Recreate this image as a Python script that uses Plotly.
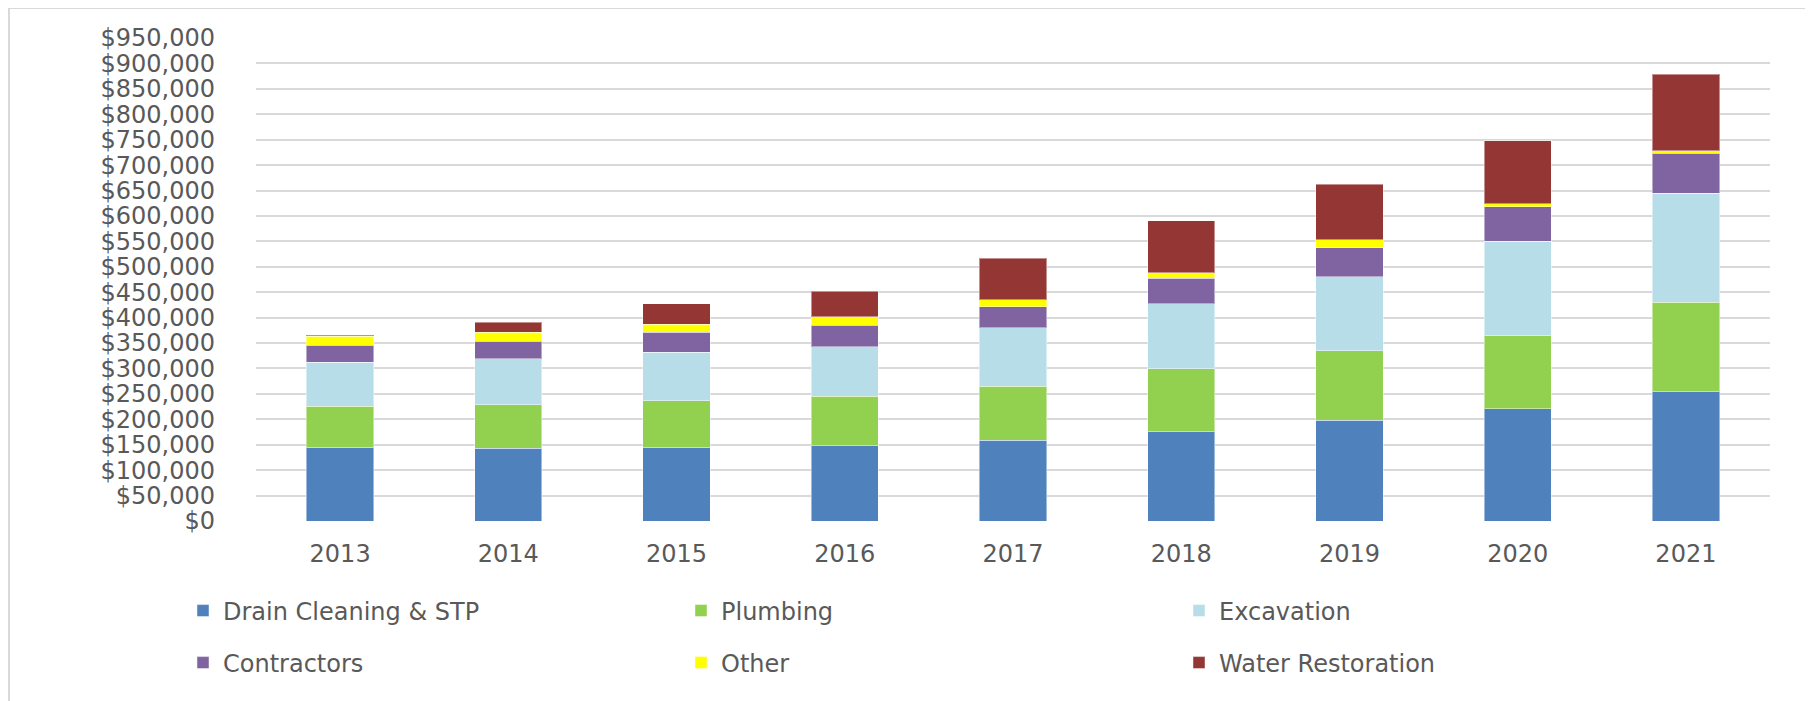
import plotly.graph_objects as go

years = ["2013", "2014", "2015", "2016", "2017", "2018", "2019", "2020", "2021"]

drain_cleaning = [145000, 143000, 145000, 148000, 159000, 176000, 198000, 221000, 254000]
plumbing = [81000, 86000, 92000, 97000, 106000, 123000, 137000, 144000, 176000]
excavation = [86000, 90000, 95000, 98000, 115000, 128000, 145000, 185000, 215000]
contractors = [34000, 35000, 39000, 42000, 41000, 50000, 57000, 68000, 78000]
other = [17000, 17000, 16000, 17000, 14000, 11000, 16000, 6000, 5000]
water_restoration = [2000, 20000, 40000, 50000, 82000, 103000, 109000, 124000, 151000]

series = [
    ("Drain Cleaning & STP", drain_cleaning, "#4f81bd", "legend"),
    ("Plumbing", plumbing, "#92d050", "legend"),
    ("Excavation", excavation, "#b7dee8", "legend"),
    ("Contractors", contractors, "#8064a2", "legend2"),
    ("Other", other, "#ffff00", "legend2"),
    ("Water Restoration", water_restoration, "#943634", "legend2"),
]

# page body has an 8px default margin: work in page pixels, convert to figure pixels
OFF = 8
W, H = 1813 - OFF, 701 - OFF
PL, PR, PT, PB = 256, 1770, 38, 521  # plot area in page pixels
L = PL - OFF
R = W - (PR - OFF)
T = PT - OFF
B = H - (PB - OFF)
PW = PR - PL
PH = PB - PT

def px_x(px):
    return (px - PL) / PW

def px_y(py):
    return (PB - py) / PH

fig = go.Figure()
for name, vals, color, lg in series:
    fig.add_trace(go.Bar(
        x=years, y=vals, name=name, legend=lg,
        marker=dict(color=color, line=dict(color="rgba(255,255,255,0.45)", width=1)),
    ))

font_family = "DejaVu Sans"
txt_color = "#595959"

legend_common = dict(
    orientation="h",
    xanchor="left",
    yanchor="middle",
    x=px_x(183),
    entrywidth=453,
    entrywidthmode="pixels",
    traceorder="normal",
    font=dict(family=font_family, size=24, color=txt_color),
    bgcolor="rgba(0,0,0,0)",
    itemclick=False,
    itemdoubleclick=False,
)

fig.update_layout(
    width=W, height=H,
    margin=dict(l=L, r=R, t=T, b=B, autoexpand=False),
    paper_bgcolor="white",
    plot_bgcolor="white",
    barmode="stack",
    bargap=0.6,
    showlegend=True,
    legend=dict(**legend_common, y=px_y(611)),
    legend2=dict(**legend_common, y=px_y(663)),
    xaxis=dict(
        showgrid=False, showline=False, zeroline=False,
        tickfont=dict(family=font_family, size=24, color=txt_color),
        ticks="", ticklabelstandoff=16,
    ),
    yaxis=dict(
        range=[0, 950000], dtick=50000, tick0=0,
        tickformat="$,.0f",
        showgrid=True, gridcolor="#d9d9d9", gridwidth=2,
        zeroline=False, showline=False,
        tickfont=dict(family=font_family, size=24, color=txt_color),
        ticks="", ticklabelstandoff=40,
    ),
    shapes=[
        dict(type="line", xref="paper", yref="paper",
             x0=px_x(8), x1=px_x(1820), y0=px_y(8), y1=px_y(8),
             line=dict(color="#d9d9d9", width=2)),
        dict(type="line", xref="paper", yref="paper",
             x0=px_x(9), x1=px_x(9), y0=px_y(8), y1=px_y(710),
             line=dict(color="#d9d9d9", width=2)),
    ],
)

fig.write_html("out.html")
